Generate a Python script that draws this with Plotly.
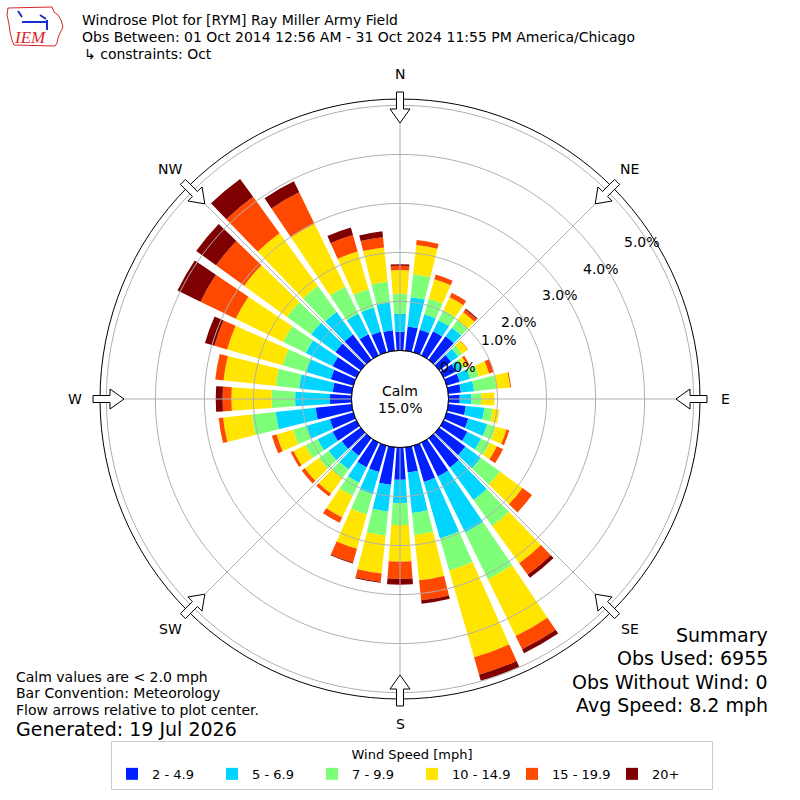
import math
import plotly.graph_objects as go

# wind direction bins (degrees, meteorological convention)
directions = [0, 10, 20, 30, 40, 50, 60, 70, 80, 90, 100, 110,
              120, 130, 140, 150, 160, 170, 180, 190, 200, 210, 220, 230,
              240, 250, 260, 270, 280, 290, 300, 310, 320, 330, 340, 350]

speed_bins = ['2 - 4.9', '5 - 6.9', '7 - 9.9', '10 - 14.9', '15 - 19.9', '20+']
bin_colors = ['#0020ff', '#00d4ff', '#7dff7a', '#ffe500', '#ff4800', '#7f0000']

# percent frequency per direction for each speed bin
speed_2_5 = [0.38, 0.50, 0.48, 0.55, 0.59, 0.30, 0.28, 0.28, 0.26, 0.23, 0.36, 0.46,
             0.54, 0.66, 0.74, 0.77, 0.77, 0.52, 0.66, 0.77, 0.56, 0.56, 0.44, 0.48,
             0.54, 0.50, 0.74, 0.44, 0.39, 0.48, 0.54, 0.64, 0.64, 0.48, 0.44, 0.42]
speed_5_7 = [0.37, 0.60, 0.33, 0.25, 0.22, 0.18, 0.12, 0.22, 0.27, 0.24, 0.38, 0.40,
             0.31, 0.39, 0.82, 1.27, 1.20, 0.83, 0.47, 0.55, 0.47, 0.35, 0.35, 0.33,
             0.34, 0.49, 0.82, 0.71, 0.69, 0.53, 0.61, 0.61, 0.57, 0.47, 0.51, 0.57]
speed_7_10 = [0.41, 0.47, 0.33, 0.23, 0.19, 0.10, 0.07, 0.18, 0.46, 0.20, 0.17, 0.18,
              0.20, 0.48, 0.65, 1.06, 0.68, 0.45, 0.45, 0.49, 0.43, 0.30, 0.22, 0.25,
              0.28, 0.29, 0.49, 0.48, 0.48, 0.49, 0.51, 0.61, 0.65, 0.61, 0.39, 0.43]
speed_10_15 = [0.48, 0.60, 0.41, 0.29, 0.20, 0.14, 0.07, 0.22, 0.28, 0.27, 0.14, 0.23,
               0.16, 0.57, 0.94, 1.29, 1.84, 0.93, 0.75, 0.78, 0.73, 0.49, 0.39, 0.35,
               0.27, 0.35, 0.59, 0.82, 1.07, 1.18, 1.08, 1.08, 1.33, 1.43, 0.80, 0.70]
speed_15_20 = [0.09, 0.10, 0.10, 0.10, 0.07, 0.01, 0.05, 0.10, 0.02, 0.00, 0.00, 0.06,
               0.14, 0.24, 0.29, 0.30, 0.37, 0.41, 0.35, 0.17, 0.29, 0.12, 0.07, 0.08,
               0.06, 0.10, 0.09, 0.18, 0.17, 0.27, 0.80, 0.71, 0.92, 0.71, 0.35, 0.21]
speed_20_up = [0.03, 0.00, 0.00, 0.00, 0.02, 0.00, 0.00, 0.00, 0.00, 0.00, 0.00, 0.00,
               0.00, 0.00, 0.08, 0.09, 0.13, 0.07, 0.12, 0.02, 0.02, 0.00, 0.00, 0.00,
               0.00, 0.00, 0.00, 0.14, 0.00, 0.20, 0.52, 0.50, 0.45, 0.25, 0.16, 0.12]

series = [speed_2_5, speed_5_7, speed_7_10, speed_10_15, speed_15_20, speed_20_up]

radial_ticks = [0, 1, 2, 3, 4, 5]
compass_labels = ['N', 'NE', 'E', 'SE', 'S', 'SW', 'W', 'NW']
compass_angles = [0, 45, 90, 135, 180, 225, 270, 315]

W = H = 800
CX, CY = 400, 399          # plot centre in pixels
R_OUT = 300                # outer ring radius in pixels
R_HOLE = 48.5              # calm circle radius in pixels
R_MAX = 5.13               # radial range (%)
PX_PER_PCT = (R_OUT - R_HOLE) / R_MAX
FONT = 'DejaVu Sans'
GRID = '#b0b0b0'


def px(x, y):
    return x / W, 1 - y / H


def polar_px(angle, r):
    a = math.radians(angle)
    return CX + r * math.sin(a), CY - r * math.cos(a)


fig = go.Figure()
for name, color, vals in zip(speed_bins, bin_colors, series):
    fig.add_trace(go.Barpolar(
        r=vals,
        theta=directions,
        width=8,
        name=name,
        marker=dict(color=color, line=dict(width=0)),
    ))

# grid drawn on top of the bars, like the original
ring_theta = list(range(0, 361, 2))
for v in radial_ticks:
    fig.add_trace(go.Scatterpolar(
        r=[v] * len(ring_theta), theta=ring_theta, mode='lines',
        line=dict(color='black' if v == 0 else GRID, width=1),
        showlegend=False, hoverinfo='skip',
    ))
for ang in compass_angles:
    fig.add_trace(go.Scatterpolar(
        r=[0, R_MAX], theta=[ang, ang], mode='lines',
        line=dict(color=GRID, width=1),
        showlegend=False, hoverinfo='skip',
    ))

annotations = []


def add_text(x, y, text, size=14, xanchor='left', color='black', family=FONT, **kw):
    ax, ay = px(x, y)
    annotations.append(dict(x=ax, y=ay, xref='paper', yref='paper', text=text,
                            showarrow=False, xanchor=xanchor, yanchor='middle',
                            font=dict(size=size, color=color, family=family), **kw))


# header
add_text(80, 20, 'Windrose Plot for [RYM] Ray Miller Army Field')
add_text(80, 37, 'Obs Between: 01 Oct 2014 12:56 AM - 31 Oct 2024 11:55 PM America/Chicago')
add_text(82, 54, '↳ constraints: Oct')

# calm in the middle
add_text(400, 391, 'Calm', xanchor='center')
add_text(400, 408, '15.0%', xanchor='center')

# compass labels
for lab, ang in zip(compass_labels, compass_angles):
    x, y = polar_px(ang, 325)
    add_text(x, y, lab, xanchor='center')

# radial tick labels (the two inner ones sit just outside their ring)
for v in radial_ticks:
    if v < 2:
        x, y = polar_px(57, R_HOLE + v * PX_PER_PCT + 21)
        y += 6
    else:
        x, y = polar_px(57, R_HOLE + v * PX_PER_PCT - 5)
    add_text(x, y, f'{v:.1f}%', xanchor='center')

# footnotes
add_text(14, 677, 'Calm values are &lt; 2.0 mph')
add_text(14, 693, 'Bar Convention: Meteorology')
add_text(14, 710, 'Flow arrows relative to plot center.')
add_text(14, 729, 'Generated: 19 Jul 2026', 19)

add_text(770, 635, 'Summary', 19, xanchor='right')
add_text(770, 658, 'Obs Used: 6955', 19, xanchor='right')
add_text(770, 682, 'Obs Without Wind: 0', 19, xanchor='right')
add_text(770, 705, 'Avg Speed: 8.2 mph', 19, xanchor='right')

# logo text
add_text(30, 38, '<i>IEM</i>', 17, xanchor='center', color='#d7262b', family='Liberation Serif')

shapes = []

# hollow flow arrows on the ring
arrow_outline = [(307, -3.5), (290, -3.5), (290, -10), (276, 0), (290, 10), (290, 3.5), (307, 3.5)]
for ang in compass_angles:
    a = math.radians(ang)
    pts = []
    for r, w in arrow_outline:
        x = CX + r * math.sin(a) + w * math.cos(a)
        y = CY - r * math.cos(a) + w * math.sin(a)
        pts.append(px(x, y))
    path = 'M ' + ' L '.join(f'{p[0]:.5f},{p[1]:.5f}' for p in pts) + ' Z'
    shapes.append(dict(type='path', xref='paper', yref='paper', path=path,
                       fillcolor='white', line=dict(color='black', width=1), layer='above'))

# logo: state outline and station glyph
iowa = [(8, 8), (52, 7), (54, 12), (58, 15), (61, 20), (63, 27), (60, 33), (58, 38),
        (57, 43), (55, 46), (14, 45), (12, 40), (10, 32), (9, 24), (7, 15)]
path = 'M ' + ' L '.join('{:.5f},{:.5f}'.format(*px(x, y)) for x, y in iowa) + ' Z'
shapes.append(dict(type='path', xref='paper', yref='paper', path=path,
                   line=dict(color='#d7262b', width=1)))
for (xa, ya), (xb, yb) in [((22, 22), (48, 22)), ((18, 11), (22, 17)), ((40, 15), (46, 19)),
                           ((47, 20), (47, 30))]:
    a0, b0 = px(xa, ya)
    a1, b1 = px(xb, yb)
    shapes.append(dict(type='line', xref='paper', yref='paper', x0=a0, y0=b0, x1=a1, y1=b1,
                       line=dict(color='#1a2fd0', width=2)))

fig.update_layout(
    width=W,
    height=H,
    margin=dict(l=0, r=0, t=0, b=0),
    paper_bgcolor='white',
    font=dict(family=FONT, size=13, color='black'),
    polar=dict(
        domain=dict(x=[(CX - R_OUT) / W, (CX + R_OUT) / W],
                    y=[1 - (CY + R_OUT) / H, 1 - (CY - R_OUT) / H]),
        hole=R_HOLE / R_OUT,
        bgcolor='white',
        barmode='stack',
        radialaxis=dict(range=[0, R_MAX], showticklabels=False, ticks='',
                        showline=False, showgrid=False),
        angularaxis=dict(rotation=90, direction='clockwise', showticklabels=False,
                         ticks='', showgrid=False, linecolor='black', linewidth=1),
    ),
    showlegend=True,
    legend=dict(
        orientation='h',
        x=111 / W, xanchor='left',
        y=1 - 741 / H, yanchor='top',
        title=dict(text='Wind Speed [mph]', side='top center', font=dict(size=13)),
        entrywidth=55, entrywidthmode='pixels',
        itemwidth=30,
        bordercolor='#cccccc', borderwidth=1, bgcolor='white',
        font=dict(size=13),
        traceorder='normal',
    ),
    annotations=annotations,
    shapes=shapes,
)

fig.write_html('out.html', config={'displayModeBar': False},
               post_script="document.body.style.margin = '0';")
